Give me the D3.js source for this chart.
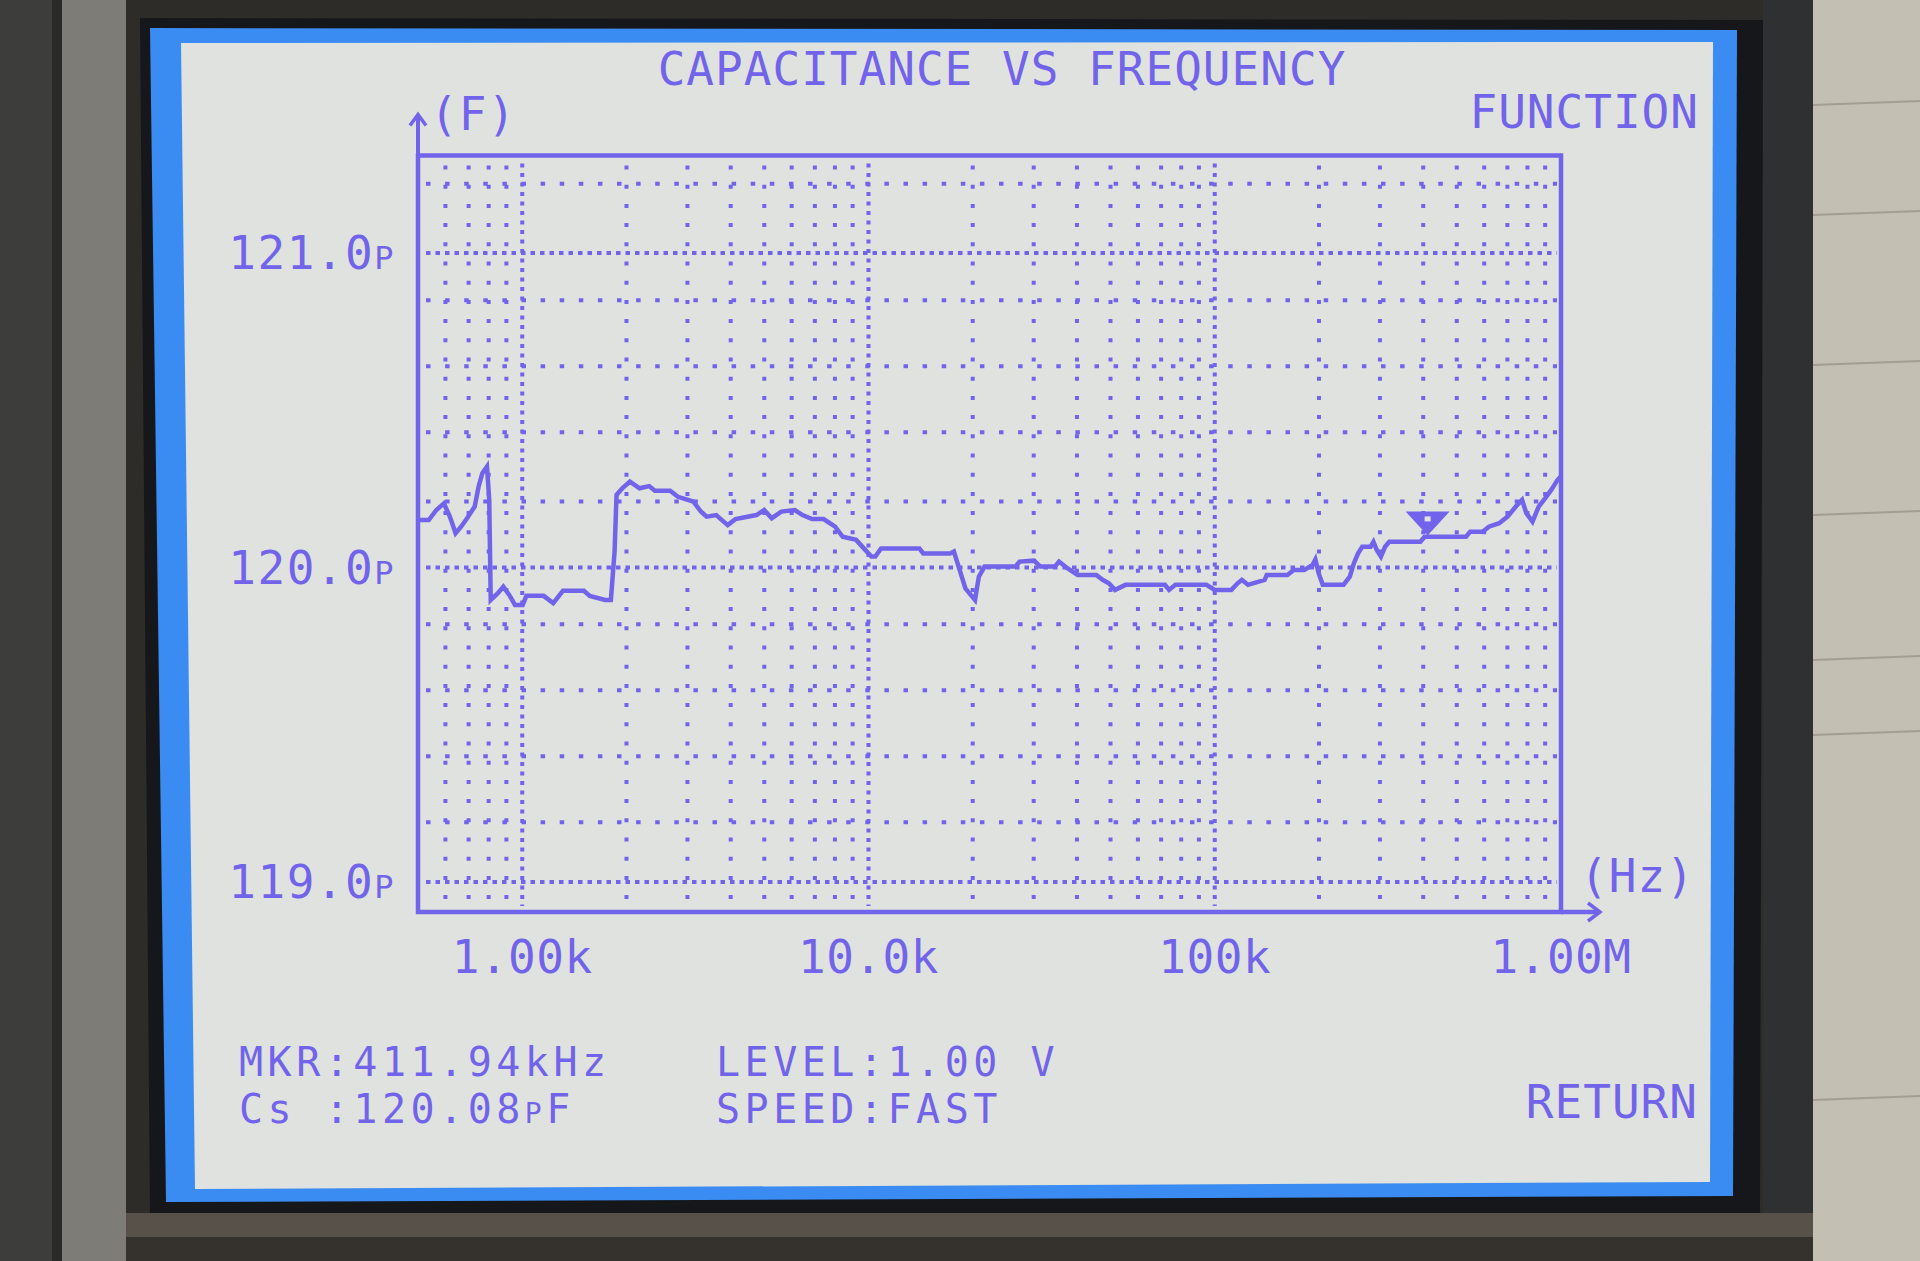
<!DOCTYPE html>
<html>
<head>
<meta charset="utf-8">
<script src="https://cdnjs.cloudflare.com/ajax/libs/d3/7.8.5/d3.min.js"></script>
<style>
  body { margin: 0; background: #2d2b28; overflow: hidden; }
  text { font-family: "DejaVu Sans Mono", monospace; }
  .sc { font-variant: small-caps; }
</style>
</head>
<body>
<svg id="chart"></svg>
<script>
// sweep data (Hz, pF)
const freqs = [500, 537, 565, 594, 618, 642, 666, 693, 729, 748,
  767, 791, 803, 811, 849, 882, 917, 953, 1003, 1028,
  1153, 1229, 1311, 1507, 1567, 1735, 1803, 1848, 1872, 1945,
  2046, 2182, 2326, 2416, 2675, 2816, 3118, 3280, 3409, 3632,
  3921, 4127, 4747, 4996, 5256, 5603, 6127, 6446, 6871, 7418,
  8009, 8424, 9211, 9694, 10198, 10466, 10872, 14032, 14392, 17205,
  17646, 18342, 19051, 20310, 20830, 21637, 26571, 27322, 30086, 31355,
  34530, 35508, 37517, 40197, 45521, 47446, 49446, 51532, 55235, 71810,
  73804, 76965, 94624, 100000, 111686, 116413, 119711, 124773, 139358, 141330,
  162181, 169044, 181214, 191521, 195264, 199526, 205064, 235505, 245471, 252274,
  259418, 266630, 281773, 287276, 293630, 301995, 310325, 319154, 392645, 403557,
  531883, 546542, 594114, 619148, 663115, 701015, 740677, 771987, 793965, 827380,
  862210, 899330, 937190, 976570, 1000000];
const caps = [120.151, 120.151, 120.183, 120.204, 120.162, 120.109, 120.130, 120.157, 120.194, 120.257,
  120.300, 120.321, 120.215, 119.897, 119.918, 119.939, 119.913, 119.881, 119.881, 119.910,
  119.910, 119.887, 119.926, 119.926, 119.910, 119.897, 119.897, 120.051, 120.231, 120.252,
  120.273, 120.252, 120.259, 120.244, 120.244, 120.225, 120.210, 120.178, 120.162, 120.167,
  120.135, 120.154, 120.167, 120.183, 120.157, 120.178, 120.183, 120.167, 120.154, 120.154,
  120.130, 120.098, 120.088, 120.061, 120.035, 120.035, 120.061, 120.061, 120.045, 120.045,
  120.051, 119.992, 119.934, 119.897, 119.971, 120.003, 120.003, 120.019, 120.022, 120.003,
  120.003, 120.019, 119.998, 119.976, 119.976, 119.961, 119.950, 119.929, 119.945, 119.945,
  119.929, 119.945, 119.945, 119.929, 119.929, 119.950, 119.961, 119.945, 119.961, 119.976,
  119.976, 119.992, 119.992, 120.008, 120.026, 119.982, 119.945, 119.945, 119.971, 120.014,
  120.045, 120.066, 120.066, 120.082, 120.056, 120.035, 120.066, 120.082, 120.082, 120.098,
  120.098, 120.114, 120.114, 120.130, 120.141, 120.162, 120.194, 120.215, 120.173, 120.146,
  120.194, 120.220, 120.247, 120.278, 120.290];

// axis ticks and labels
const decadeFreqs = [1e3, 1e4, 1e5, 1e6];
const decadeLabels = ["1.00k", "10.0k", "100k", "1.00M"];
const minorFreqs = [600, 700, 800, 900,
  2e3, 3e3, 4e3, 5e3, 6e3, 7e3, 8e3, 9e3,
  2e4, 3e4, 4e4, 5e4, 6e4, 7e4, 8e4, 9e4,
  2e5, 3e5, 4e5, 5e5, 6e5, 7e5, 8e5, 9e5];
const capTicks = [121, 120, 119];
const capLabels = ["121.0", "120.0", "119.0"];
const gridRows = [121.22, 120.85, 120.64, 120.43, 120.21, 119.82, 119.61, 119.40, 119.19];

// marker readout
const markerFreq = 411940;
const markerCap = 120.08;
const infoLines = [
  { text: "MKR:411.94kHz", x: 239, y: 1076 },
  { text: "LEVEL:1.00 V", x: 716, y: 1076 },
  { text: "SPEED:FAST", x: 716, y: 1123 }
];

const W = 1920, H = 1261;
const ink = "#7264ea";
const lcd = "#dfe2de";

const svg = d3.select("#chart").attr("width", W).attr("height", H);

//bezel / instrument body around the lcd
function drawBody() {
  svg.append("rect").attr("width", W).attr("height", H).attr("fill", "#2e2c29");
  svg.append("rect").attr("x", 0).attr("y", 0).attr("width", 52).attr("height", H).attr("fill", "#3d3d3b");
  svg.append("rect").attr("x", 52).attr("y", 0).attr("width", 10).attr("height", H).attr("fill", "#2a2a28");
  svg.append("rect").attr("x", 62).attr("y", 0).attr("width", 64).attr("height", H).attr("fill", "#7d7c77");
  svg.append("rect").attr("x", 1813).attr("y", 0).attr("width", 107).attr("height", H).attr("fill", "#c4bfb3");
  svg.append("rect").attr("x", 1763).attr("y", 0).attr("width", 50).attr("height", H).attr("fill", "#2f3031");
  svg.append("rect").attr("x", 126).attr("y", 1213).attr("width", 1687).attr("height", 24).attr("fill", "#57514a");
  svg.append("rect").attr("x", 126).attr("y", 1237).attr("width", 1687).attr("height", 24).attr("fill", "#35322e");
  [105, 215, 365, 515, 660, 735, 1100].forEach(function(y) {
    svg.append("line").attr("x1", 1813).attr("x2", W).attr("y1", y).attr("y2", y - 4)
      .attr("stroke", "#a39e91").attr("stroke-width", 2);
  });
  svg.append("polygon").attr("points", "140,18 1763,20 1760,1213 150,1213").attr("fill", "#15171b");
  svg.append("polygon").attr("points", "150,28 1737,30 1733,1196 166,1202").attr("fill", "#3a8cf2");
  svg.append("polygon").attr("points", "181,43 1713,42 1710,1182 195,1189").attr("fill", lcd);
}
drawBody();

//scales
const x = d3.scaleLog().domain([500, 1e6]).range([418, 1561]);
const y = d3.scaleLinear().domain([118.905, 121.31]).range([912, 155.5]);

const g = svg.append("g");

//grid: minor verticals
g.selectAll(".vminor").data(minorFreqs).enter().append("line")
  .attr("x1", d => x(d)).attr("x2", d => x(d))
  .attr("y1", y.range()[1] + 10).attr("y2", y.range()[0] - 6)
  .attr("stroke", ink).attr("stroke-width", 4).attr("stroke-dasharray", "4 15.2");

//grid: decade verticals
g.selectAll(".vmajor").data(decadeFreqs.slice(0, 3)).enter().append("line")
  .attr("x1", d => x(d)).attr("x2", d => x(d))
  .attr("y1", y.range()[1] + 8).attr("y2", y.range()[0] - 6)
  .attr("stroke", ink).attr("stroke-width", 4).attr("stroke-dasharray", "4 5.5");

//grid: sparse rows
g.selectAll(".hminor").data(gridRows).enter().append("line")
  .attr("x1", x.range()[0] + 8).attr("x2", x.range()[1] - 4)
  .attr("y1", d => y(d)).attr("y2", d => y(d))
  .attr("stroke", ink).attr("stroke-width", 4).attr("stroke-dasharray", "4.5 14.6");

//grid: labelled rows
g.selectAll(".hmajor").data(capTicks).enter().append("line")
  .attr("x1", x.range()[0] + 8).attr("x2", x.range()[1] - 4)
  .attr("y1", d => y(d)).attr("y2", d => y(d))
  .attr("stroke", ink).attr("stroke-width", 4).attr("stroke-dasharray", "4.5 5");

//frame and axis arrows
g.append("rect")
  .attr("x", x.range()[0]).attr("y", y.range()[1])
  .attr("width", x.range()[1] - x.range()[0]).attr("height", y.range()[0] - y.range()[1])
  .attr("fill", "none").attr("stroke", ink).attr("stroke-width", 4.5);
g.append("line").attr("x1", x.range()[0]).attr("x2", x.range()[0])
  .attr("y1", y.range()[1]).attr("y2", y.range()[1] - 40)
  .attr("stroke", ink).attr("stroke-width", 4);
g.append("path")
  .attr("d", "M" + (x.range()[0] - 8) + "," + (y.range()[1] - 30) + "L" + x.range()[0] + "," + (y.range()[1] - 41) + "L" + (x.range()[0] + 8) + "," + (y.range()[1] - 30))
  .attr("fill", "none").attr("stroke", ink).attr("stroke-width", 3.5);
g.append("line").attr("x1", x.range()[1]).attr("x2", x.range()[1] + 38)
  .attr("y1", y.range()[0]).attr("y2", y.range()[0])
  .attr("stroke", ink).attr("stroke-width", 4.5);
g.append("path")
  .attr("d", "M" + (x.range()[1] + 27) + "," + (y.range()[0] - 9) + "L" + (x.range()[1] + 39) + "," + y.range()[0] + "L" + (x.range()[1] + 27) + "," + (y.range()[0] + 9))
  .attr("fill", "none").attr("stroke", ink).attr("stroke-width", 3.5);

//trace
const pts = freqs.map((f, i) => ({ f: f, c: caps[i] }));
const line = d3.line().x(d => x(d.f)).y(d => y(d.c));
g.append("path").datum(pts)
  .attr("fill", "none").attr("stroke", ink).attr("stroke-width", 4.5)
  .attr("stroke-linejoin", "miter").attr("d", line);

//marker triangle
const mx = x(markerFreq), my = y(markerCap);
g.append("path")
  .attr("d", "M" + (mx - 22) + "," + (my - 31) + "L" + (mx + 22) + "," + (my - 31) + "L" + mx + "," + (my - 7) + "Z")
  .attr("fill", ink);
g.append("rect").attr("x", mx - 3).attr("y", my - 26).attr("width", 6).attr("height", 5).attr("fill", lcd);

//y tick labels
const fs = 46;
const ylab = g.selectAll(".ylab").data(capTicks).enter().append("text")
  .attr("x", 395).attr("y", d => y(d) + 16)
  .attr("text-anchor", "end").attr("font-size", fs).attr("letter-spacing", 1.5).attr("fill", ink);
ylab.append("tspan").text((d, i) => capLabels[i]);
ylab.append("tspan").attr("class", "sc").text("p");

//x tick labels
g.selectAll(".xlab").data(decadeFreqs).enter().append("text")
  .attr("x", d => x(d)).attr("y", 973)
  .attr("text-anchor", "middle").attr("font-size", fs).attr("letter-spacing", 0.5)
  .attr("fill", ink).text((d, i) => decadeLabels[i]);

//titles and unit labels
function label(t, xx, yy, anchor, size, ls) {
  return svg.append("text").attr("x", xx).attr("y", yy).attr("text-anchor", anchor || "start")
    .attr("font-size", size || fs).attr("letter-spacing", ls || 1).attr("fill", ink).text(t);
}
label("CAPACITANCE VS FREQUENCY", 1002, 85, "middle");
label("FUNCTION", 1699, 128, "end");
label("(F)", 430, 130);
label("(Hz)", 1580, 892);
label("RETURN", 1698, 1118, "end");

//readout block below the plot, a bit smaller so the two rows keep clear
infoLines.forEach(d => label(d.text, d.x, d.y, "start", 40, 4.5));
const cs = svg.append("text").attr("x", 239).attr("y", 1123)
  .attr("font-size", 40).attr("letter-spacing", 4.5).attr("fill", ink)
  .attr("xml:space", "preserve");
cs.append("tspan").text("Cs :" + markerCap.toFixed(2));
cs.append("tspan").attr("class", "sc").text("p");
cs.append("tspan").text("F");
</script>
</body>
</html>
